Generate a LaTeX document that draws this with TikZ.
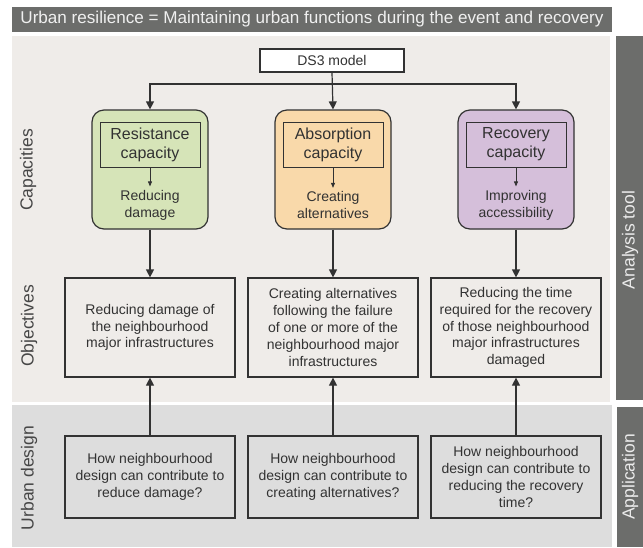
\documentclass[tikz,border=0pt]{standalone}
\usepackage{fontspec}
\setmainfont{Liberation Sans}
\usetikzlibrary{arrows.meta}
\definecolor{barcol}{RGB}{108,109,107}
\definecolor{panelcol}{RGB}{239,236,233}
\definecolor{lowcol}{RGB}{221,221,221}
\definecolor{resgreen}{RGB}{214,228,184}
\definecolor{absorange}{RGB}{249,217,170}
\definecolor{recpurple}{RGB}{213,191,218}
\definecolor{ink}{RGB}{50,50,50}
\definecolor{labcol}{RGB}{70,70,70}
\begin{document}
\begin{tikzpicture}[x=1pt,y=-1pt,
  txt/.style={font=\fontsize{14}{16.8}\selectfont, text=ink, align=center},
  capbox/.style={draw=ink, line width=1.2pt, rounded corners=12pt, minimum width=116pt, minimum height=119pt},
  innerbox/.style={draw=ink, line width=0.9pt, minimum width=100pt, minimum height=45pt, align=center, text=ink, font=\fontsize{16}{19}\selectfont},
  objbox/.style={draw=ink, line width=1.2pt, fill=panelcol, minimum width=170pt, minimum height=99pt, txt},
  askbox/.style={draw=ink, line width=1.2pt, fill=lowcol, minimum width=170pt, minimum height=82pt, txt, font=\fontsize{14}{17}\selectfont},
  sidelabel/.style={rotate=90, font=\fontsize{17.5}{20}\selectfont, text=labcol},
  barlabel/.style={rotate=90, font=\fontsize{17.5}{20}\selectfont, text=white!92!black},
  arr/.style={-{Triangle[length=8pt,width=8pt]}, draw=ink, line width=1.2pt},
  smallarr/.style={-{Triangle[length=5pt,width=4pt]}, draw=ink, line width=0.8pt}
]
  \useasboundingbox (0,0) rectangle (643,547);
  \fill[barcol] (12,7) rectangle (612,32);
  \fill[panelcol] (12,36) rectangle (610,402);
  \fill[lowcol] (12,405) rectangle (612,547);
  \fill[barcol] (616,36) rectangle (643,400);
  \fill[barcol] (617,407) rectangle (643,547);

  \node[font=\fontsize{17.1}{19}\selectfont, text=white!94!black] (title) at (312,19.5)
    {Urban resilience = Maintaining urban functions during the event and recovery};
  \node[sidelabel] (caplab) at (28,170) {Capacities};
  \node[sidelabel] (objlab) at (29,326) {Objectives};
  \node[sidelabel] (udlab) at (29,478) {Urban design};
  \node[barlabel] (toollab) at (630,240) {Analysis tool};
  \node[barlabel] (applab) at (630,477) {Application};

  \node[draw=ink, line width=1.2pt, fill=white, minimum width=144pt, minimum height=23pt,
    font=\fontsize{14}{16}\selectfont, text=ink] (ds3) at (332,60.5) {DS3 model};

  \node[capbox, fill=resgreen] (res) at (150,169.5) {};
  \node[capbox, fill=absorange] (abs) at (333,169.5) {};
  \node[capbox, fill=recpurple] (rec) at (516,169.5) {};

  \node[innerbox] (resin) at (150,144.5) {Resistance\\capacity};
  \node[innerbox] (absin) at (333,144.5) {Absorption\\capacity};
  \node[innerbox] (recin) at (516,144.5) {Recovery\\capacity};

  \node[txt, font=\fontsize{14}{17}\selectfont] (restxt) at (150,205) {Reducing\\damage};
  \node[txt, font=\fontsize{14}{17}\selectfont] (abstxt) at (333,205) {Creating\\alternatives};
  \node[txt, font=\fontsize{14}{17}\selectfont] (rectxt) at (516,205) {Improving\\accessibility};

  \node[objbox] (resobj) at (150,327.5) {Reducing damage of\\the neighbourhood\\major infrastructures};
  \node[objbox] (absobj) at (333,327.5) {Creating alternatives\\following the failure\\of one or more of the\\neighbourhood major\\infrastructures};
  \node[objbox] (recobj) at (516,327.5) {Reducing the time\\required for the recovery\\of those neighbourhood\\major infrastructures\\damaged};

  \node[askbox] (resask) at (150,477) {How neighbourhood\\design can contribute to\\reduce damage?};
  \node[askbox] (absask) at (333,477) {How neighbourhood\\design can contribute to\\creating alternatives?};
  \node[askbox] (recask) at (516,477) {How neighbourhood\\design can contribute to\\reducing the recovery\\time?};

  \coordinate (split) at (333,84);
  \draw[arr] (ds3.south) -- (abs.north);
  \draw[arr] (split) -| (res.north);
  \draw[arr] (split) -| (rec.north);

  \draw[smallarr] (resin.south) -- (restxt.north);
  \draw[smallarr] (absin.south) -- (abstxt.north);
  \draw[smallarr] (recin.south) -- (rectxt.north);

  \draw[arr] (res.south) -- (resobj.north);
  \draw[arr] (abs.south) -- (absobj.north);
  \draw[arr] (rec.south) -- (recobj.north);

  \draw[arr] (resask.north) -- (resobj.south);
  \draw[arr] (absask.north) -- (absobj.south);
  \draw[arr] (recask.north) -- (recobj.south);
\end{tikzpicture}
\end{document}
